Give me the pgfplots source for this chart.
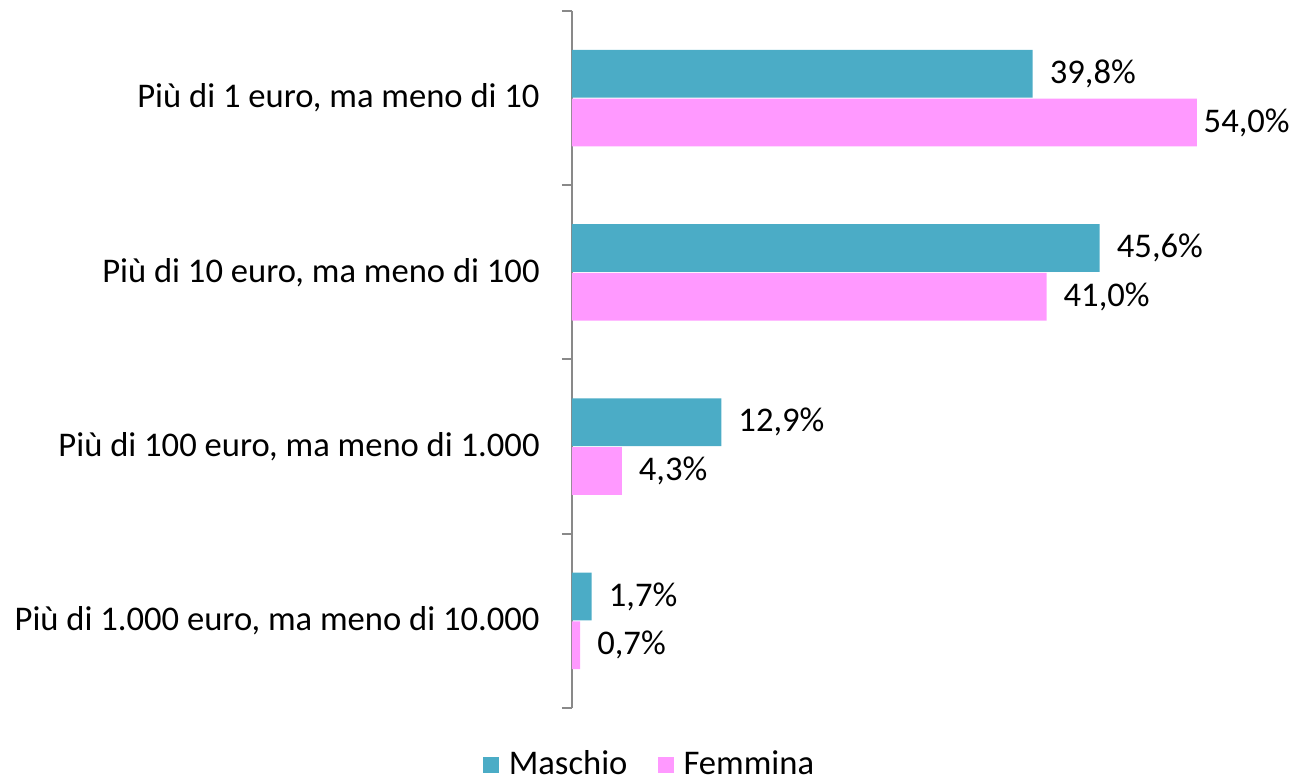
\documentclass[border=0pt]{standalone}
\usepackage{pgfplots}
\pgfplotsset{compat=1.18}
\usepackage{fontspec}
\setmainfont{Carlito}
\definecolor{cM}{HTML}{4BACC6}
\definecolor{cF}{HTML}{FF99FF}
\definecolor{axgray}{HTML}{898989}
\begin{document}
\fontsize{17.3}{20}\selectfont
\begin{tikzpicture}
\begin{axis}[
  scale only axis, width=347.2pt, height=348.5pt,
  xmin=0, xmax=60, ymin=-0.5, ymax=3.5, y dir=reverse,
  hide x axis,
  axis y line*=left,
  y axis line style={draw=axgray, line width=1pt},
  ytick={0,1,2,3},
  yticklabels={{Più di 1 euro, ma meno di 10},{Più di 10 euro, ma meno di 100},{Più di 100 euro, ma meno di 1.000},{Più di 1.000 euro, ma meno di 10.000}},
  major tick length=0pt,
  minor ytick={-0.5,0.5,1.5,2.5,3.5},
  minor tick length=5pt,
  tick align=outside,
  minor tick style={draw=axgray, line width=1pt},
  major tick style={draw=none},
  yticklabel style={font=\fontsize{17.3}{20}\selectfont, inner sep=0pt, anchor=east, xshift=-16pt},
  bar width=0.275,
  clip=false,
  legend columns=2,
  legend style={draw=none, at={(0.113,-28.5pt)}, anchor=center, font=\fontsize{17.3}{20}\selectfont,
    /tikz/every odd column/.append style={column sep=3pt},
    /tikz/every even column/.append style={column sep=13pt}},
  legend image code/.code={\fill[#1] (0pt,-4pt) rectangle (8pt,4pt);},
]
\addplot[xbar, fill=cM, draw=none, bar shift=-0.14] coordinates {(39.8,0) (45.6,1) (12.9,2) (1.7,3)};
\addlegendentry{Maschio}
\addplot[xbar, fill=cF, draw=none, bar shift=0.14] coordinates {(54.0,0) (41.0,1) (4.3,2) (0.7,3)};
\addlegendentry{Femmina}
\addplot[forget plot, draw=none, mark=none, nodes near coords, point meta=explicit symbolic,
  nodes near coords style={anchor=west, inner sep=0pt, font=\fontsize{17.3}{20}\selectfont}]
  table[meta=label] {
  x y label
  41.25 -0.14 39,8\%
  47.05 0.86 45,6\%
  14.35 1.86 12,9\%
  3.15 2.86 1,7\%
  54.55 0.14 54,0\%
  42.45 1.14 41,0\%
  5.75 2.14 4,3\%
  2.15 3.14 0,7\%
  };
\coordinate (bl) at (rel axis cs:0,0);
\end{axis}
\pgfresetboundingbox
\path ([xshift=-286pt,yshift=-35.5pt]bl) rectangle ([xshift=361pt,yshift=354pt]bl);
\end{tikzpicture}
\end{document}
